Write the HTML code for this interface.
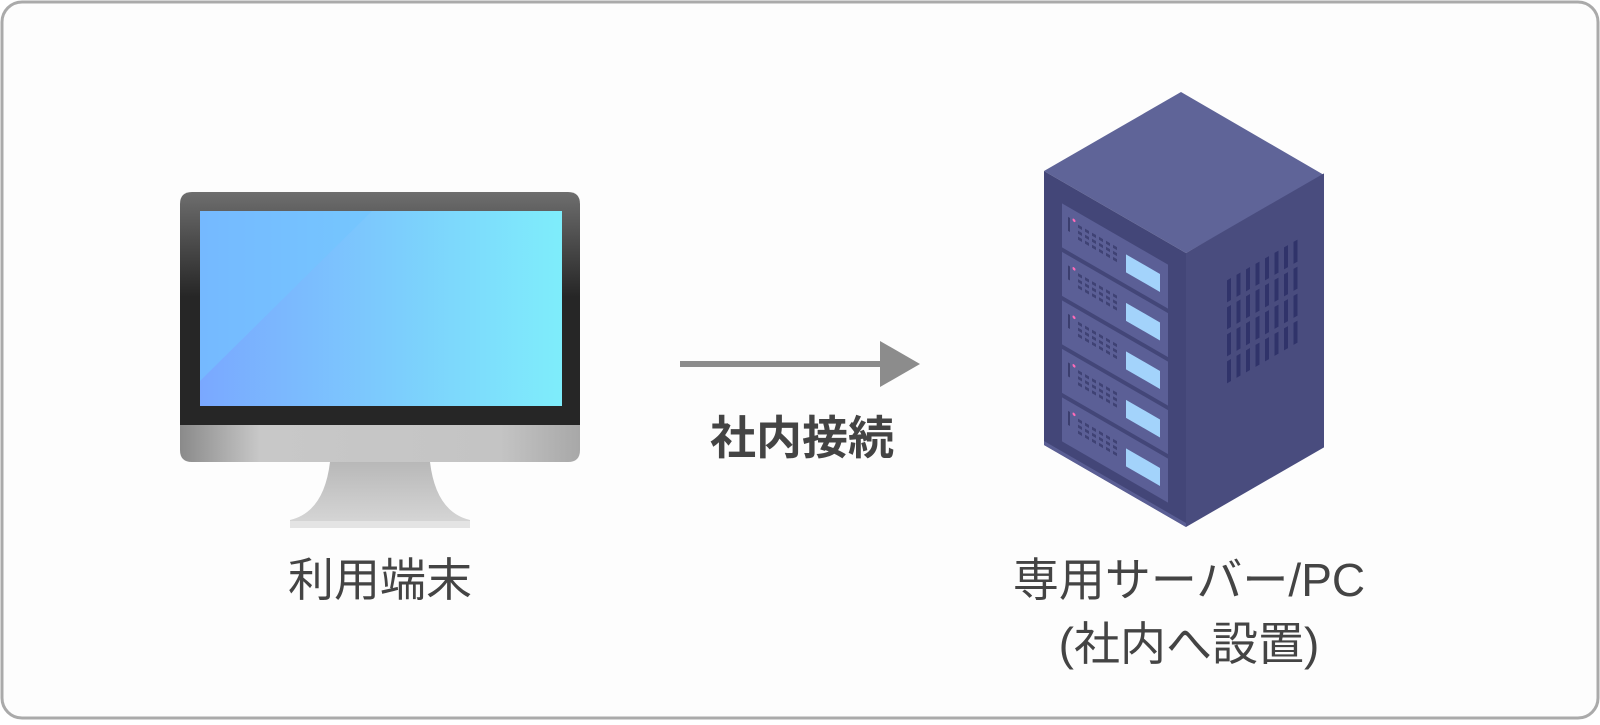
<!DOCTYPE html>
<html><head><meta charset="utf-8"><style>
html,body{margin:0;padding:0;background:#fff}
.t{font-family:"Liberation Sans","Noto Sans CJK JP",sans-serif;fill:#444}
</style></head><body>
<svg width="1600" height="720" viewBox="0 0 1600 720" xmlns="http://www.w3.org/2000/svg">
<defs>
<linearGradient id="bez" x1="0" y1="0" x2="0" y2="1">
<stop offset="0" stop-color="#6e6e6e"/><stop offset="0.45" stop-color="#262626"/><stop offset="1" stop-color="#262626"/></linearGradient>
<linearGradient id="scr" x1="0" y1="0" x2="1" y2="0">
<stop offset="0" stop-color="#7aa8ff"/><stop offset="1" stop-color="#7eedfb"/></linearGradient>
<linearGradient id="chin" x1="0" y1="0" x2="1" y2="0">
<stop offset="0" stop-color="#8a8a8a"/><stop offset="0.2" stop-color="#c8c8c8"/><stop offset="0.8" stop-color="#c4c4c4"/><stop offset="1" stop-color="#a8a8a8"/></linearGradient>
<linearGradient id="stand" x1="0" y1="0" x2="0" y2="1">
<stop offset="0" stop-color="#b8b8b8"/><stop offset="1" stop-color="#d8d8d8"/></linearGradient>
</defs>
<rect x="2" y="2" width="1596" height="716" rx="20" fill="#fdfdfd" stroke="#aaa" stroke-width="3"/>
<!-- monitor -->
<path d="M330 462 L430 462 Q436 512 470 520 L470 528 L290 528 L290 520 Q324 512 330 462Z" fill="url(#stand)"/>
<rect x="290" y="521" width="180" height="7" fill="#e4e4e4"/>
<path d="M180 425 L580 425 L580 450 Q580 462 568 462 L192 462 Q180 462 180 450Z" fill="url(#chin)"/>
<path d="M192 192 L568 192 Q580 192 580 204 L580 425 L180 425 L180 204 Q180 192 192 192Z" fill="url(#bez)"/>
<rect x="200" y="211" width="362" height="195" fill="url(#scr)"/>
<path d="M200 211 L372 211 L200 381Z" fill="#72c4ff" opacity="0.6"/>
<!-- arrow -->
<rect x="680" y="361" width="205" height="6" fill="#8c8c8c"/>
<path d="M880 341 L920 364 L880 387Z" fill="#8c8c8c"/>
<text class="t" x="802" y="454" font-size="46" font-weight="bold" text-anchor="middle">社内接続</text>
<text class="t" x="380" y="596" font-size="46" text-anchor="middle">利用端末</text>
<text class="t" x="1189" y="596" font-size="46" text-anchor="middle">専用サーバー/PC</text>
<text class="t" x="1189" y="660" font-size="46" text-anchor="middle">(社内へ設置)</text>
<!-- server -->
<polygon points="1181,92 1324,175 1186,253 1044,171" fill="#5f6498"/>
<g transform="translate(1044,171) skewY(30)">
<rect x="0" y="0" width="142" height="274" fill="#434678"/>
<rect x="0" y="270" width="142" height="4" fill="#5a5e94"/>
<g id="u">
<rect x="18" y="22" width="106" height="44" fill="#5b5f96"/>
<rect x="82" y="36" width="34" height="18" fill="#a3d3fb"/>
<rect x="24" y="32" width="2" height="14" fill="#3b3e6e"/>
<circle cx="30" cy="32" r="1.5" fill="#ff6ab8"/>
<g fill="#3f4274">
<rect x="34" y="34" width="4" height="3"/><rect x="41" y="34" width="4" height="3"/><rect x="48" y="34" width="4" height="3"/><rect x="55" y="34" width="4" height="3"/><rect x="62" y="34" width="4" height="3"/><rect x="69" y="34" width="4" height="3"/>
<rect x="34" y="40" width="4" height="3"/><rect x="41" y="40" width="4" height="3"/><rect x="48" y="40" width="4" height="3"/><rect x="55" y="40" width="4" height="3"/><rect x="62" y="40" width="4" height="3"/><rect x="69" y="40" width="4" height="3"/>
<rect x="34" y="46" width="4" height="3"/><rect x="41" y="46" width="4" height="3"/><rect x="48" y="46" width="4" height="3"/><rect x="55" y="46" width="4" height="3"/><rect x="62" y="46" width="4" height="3"/><rect x="69" y="46" width="4" height="3"/>
</g>
</g>
<use href="#u" y="48.5"/><use href="#u" y="97"/><use href="#u" y="145.5"/><use href="#u" y="194"/>
</g>
<g transform="translate(1186,253) skewY(-30)">
<rect x="0" y="0" width="138" height="274" fill="#494c7e"/>
<g id="v" fill="#30336a">
<rect x="41" y="51" width="4" height="22"/><rect x="50.5" y="51" width="4" height="22"/><rect x="60" y="51" width="4" height="22"/><rect x="69.5" y="51" width="4" height="22"/><rect x="79" y="51" width="4" height="22"/><rect x="88.5" y="51" width="4" height="22"/><rect x="98" y="51" width="4" height="22"/><rect x="107.5" y="51" width="4" height="22"/>
</g>
<use href="#v" y="27"/><use href="#v" y="54"/><use href="#v" y="81"/>
</g>
</svg>
</body></html>
